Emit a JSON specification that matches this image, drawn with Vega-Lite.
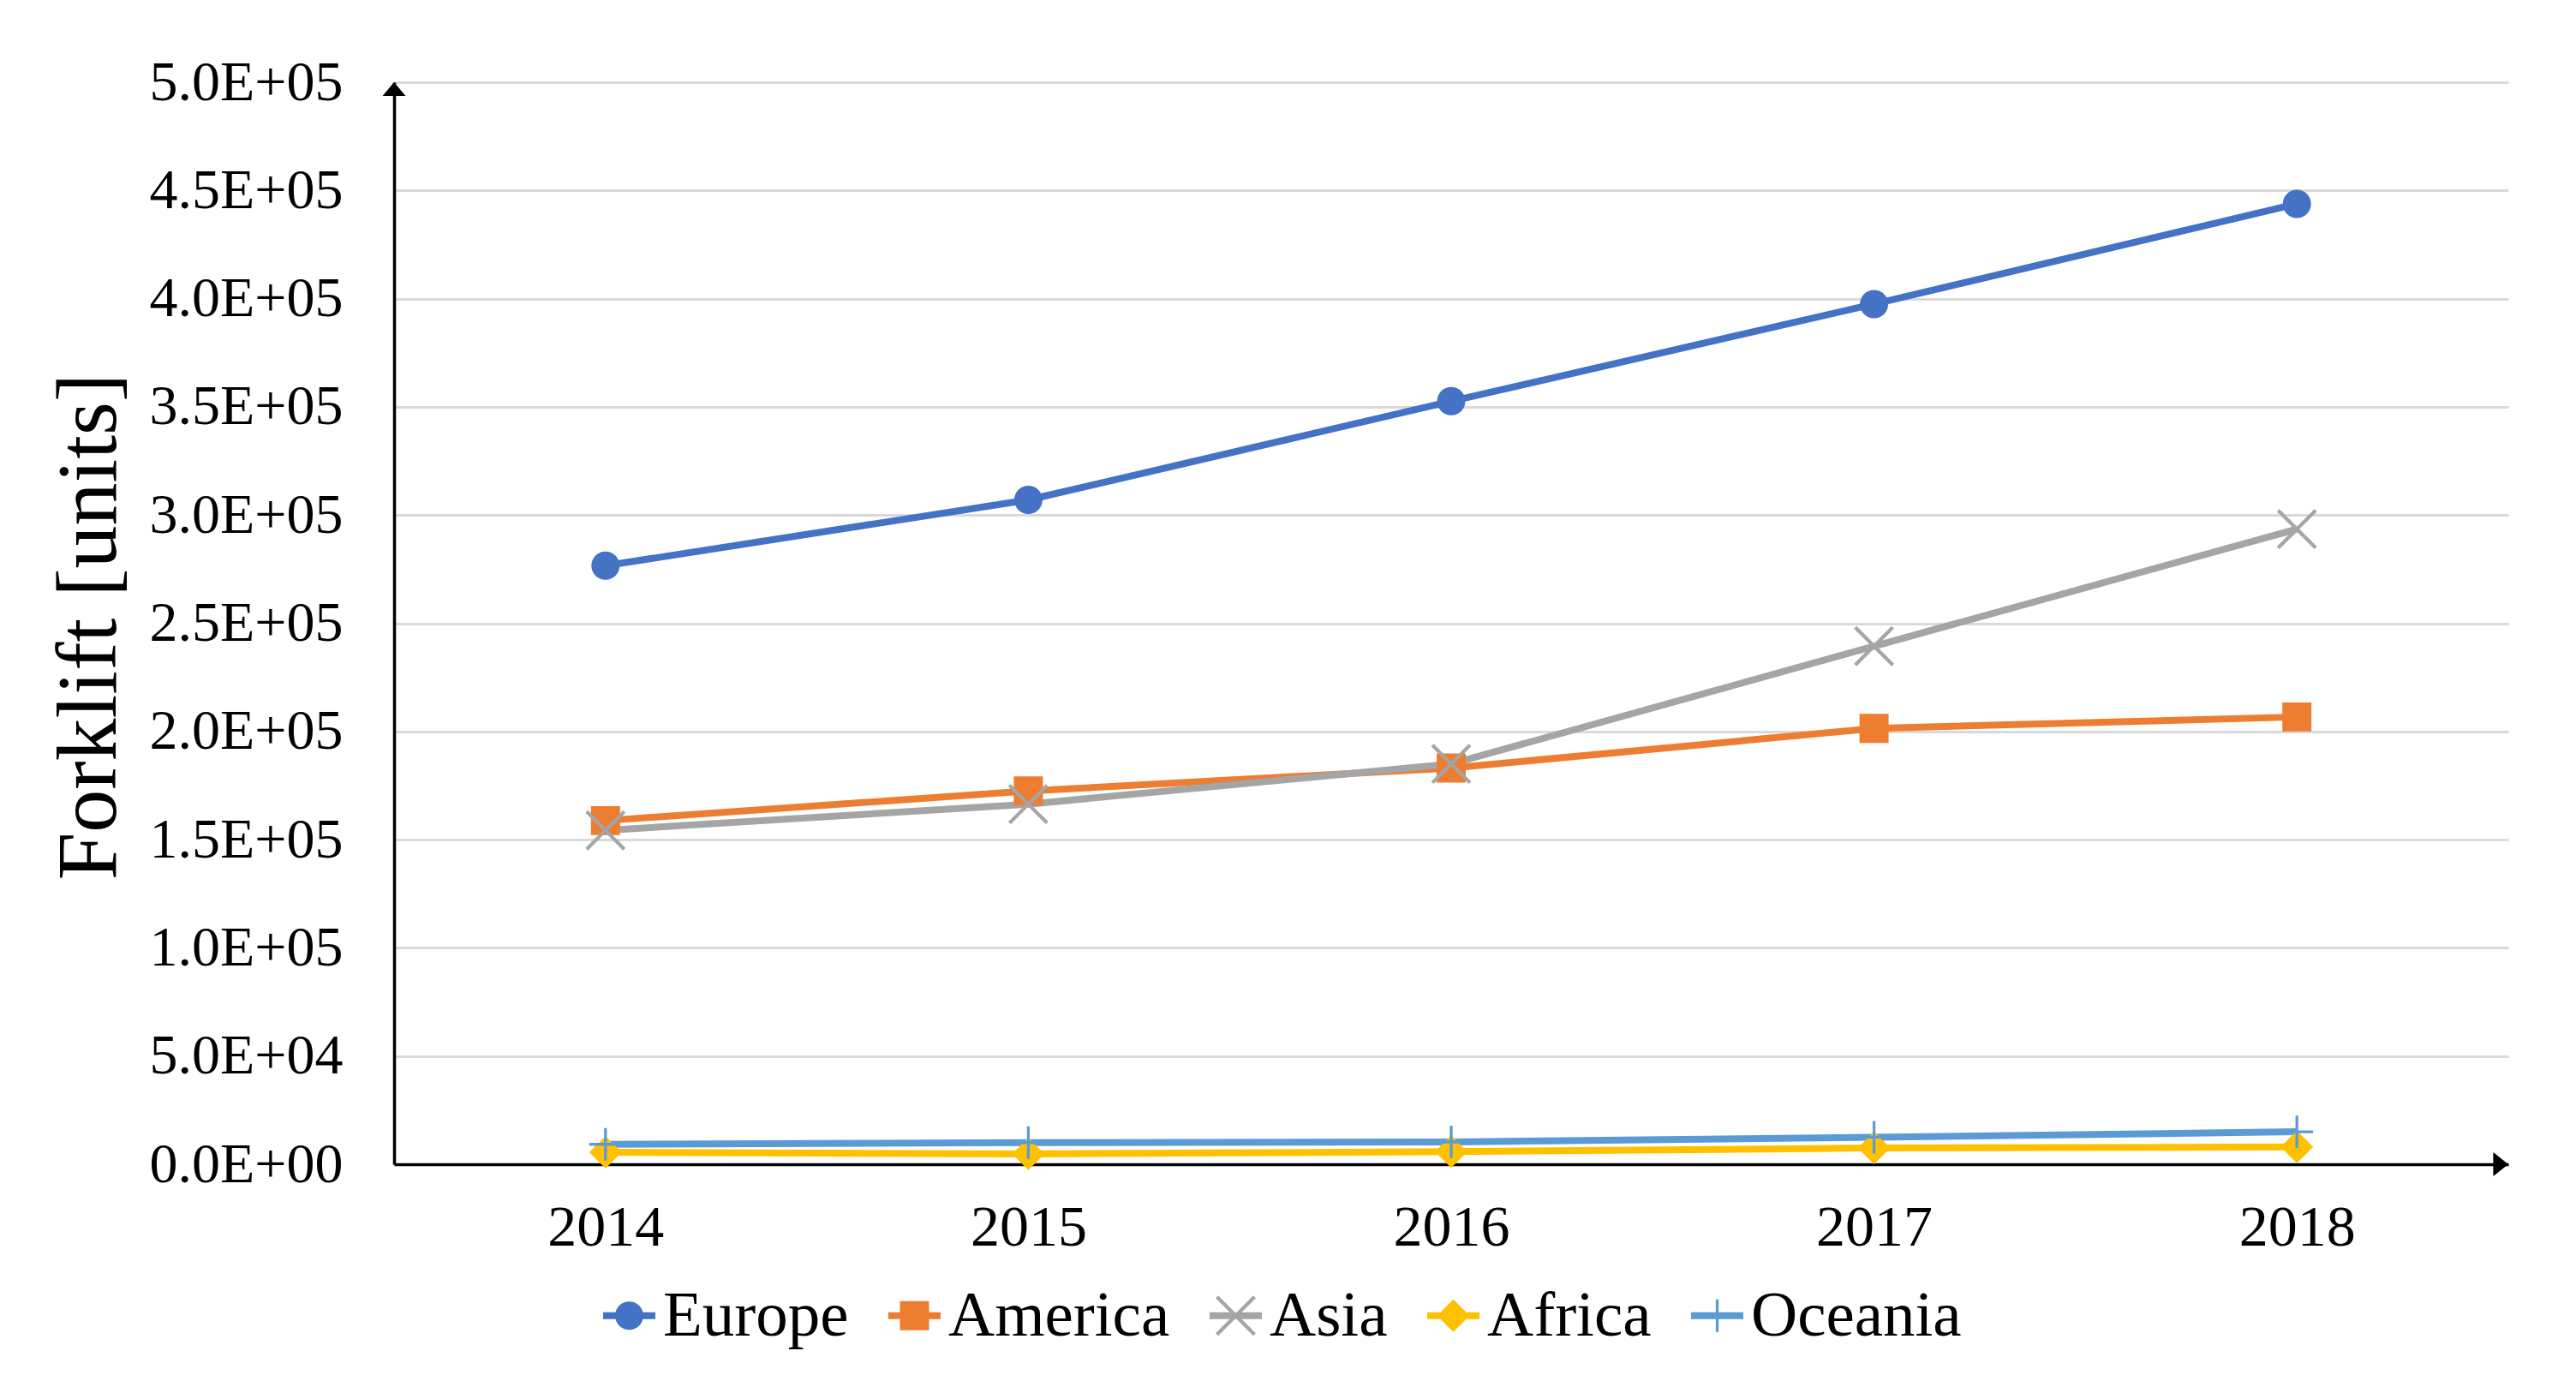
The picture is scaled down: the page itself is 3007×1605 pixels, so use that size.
{
  "$schema": "https://vega.github.io/schema/vega-lite/v6.json",
  "width": 2468,
  "height": 1263,
  "autosize": {"type": "none"},
  "padding": {"left": 460, "top": 96, "right": 79, "bottom": 246},
  "background": "white",
  "config": {"view": {"stroke": null}, "font": "Liberation Serif"},
  "datasets": {
    "forklift": [
      {"year": "2014", "series": "Europe", "value": 276600},
      {"year": "2015", "series": "Europe", "value": 307000},
      {"year": "2016", "series": "Europe", "value": 352600},
      {"year": "2017", "series": "Europe", "value": 397500},
      {"year": "2018", "series": "Europe", "value": 443800},
      {"year": "2014", "series": "America", "value": 158800},
      {"year": "2015", "series": "America", "value": 172500},
      {"year": "2016", "series": "America", "value": 183100},
      {"year": "2017", "series": "America", "value": 201400},
      {"year": "2018", "series": "America", "value": 206700},
      {"year": "2014", "series": "Asia", "value": 154300},
      {"year": "2015", "series": "Asia", "value": 166400},
      {"year": "2016", "series": "Asia", "value": 185000},
      {"year": "2017", "series": "Asia", "value": 239400},
      {"year": "2018", "series": "Asia", "value": 293500},
      {"year": "2014", "series": "Africa", "value": 5500},
      {"year": "2015", "series": "Africa", "value": 4800},
      {"year": "2016", "series": "Africa", "value": 5800},
      {"year": "2017", "series": "Africa", "value": 7500},
      {"year": "2018", "series": "Africa", "value": 8000},
      {"year": "2014", "series": "Oceania", "value": 9200},
      {"year": "2015", "series": "Oceania", "value": 10000},
      {"year": "2016", "series": "Oceania", "value": 10300},
      {"year": "2017", "series": "Oceania", "value": 12500},
      {"year": "2018", "series": "Oceania", "value": 15000}
    ],
    "arrowTop": [{"v": 500000}],
    "arrowRight": [{"v": 0}]
  },
  "layer": [
    {
      "data": {"name": "forklift"},
      "mark": {"type": "line", "strokeWidth": 8, "strokeJoin": "round", "strokeCap": "butt"},
      "encoding": {
        "x": {
          "field": "year", "type": "ordinal",
          "scale": {"type": "point", "padding": 0.5},
          "axis": {
            "title": null, "labelAngle": 0, "ticks": false, "tickSize": 0, "grid": false,
            "labelFont": "Liberation Serif", "labelFontSize": 68, "labelColor": "black",
            "labelPadding": 40, "domainColor": "black", "domainWidth": 3.5
          }
        },
        "y": {
          "field": "value", "type": "quantitative",
          "scale": {"domain": [0, 500000], "nice": false, "zero": true},
          "axis": {
            "title": "Forklift [units]",
            "titleFont": "Liberation Serif", "titleFontSize": 100, "titleFontWeight": "normal",
            "titleColor": "black", "titleX": -326, "titleY": 635, "titleAngle": -90,
            "titleAlign": "center", "titleBaseline": "alphabetic",
            "values": [0, 50000, 100000, 150000, 200000, 250000, 300000, 350000, 400000, 450000, 500000],
            "labelExpr": "datum.value == 0 ? '0.0E+00' : format(datum.value / pow(10, floor(log(datum.value) / LN10 + 1e-9)), '.1f') + 'E+' + (floor(log(datum.value) / LN10 + 1e-9) < 10 ? '0' : '') + floor(log(datum.value) / LN10 + 1e-9)",
            "labelFont": "Liberation Serif", "labelFontSize": 66, "labelColor": "black",
            "labelLimit": 1000,
            "labelPadding": 60, "ticks": false, "tickSize": 0,
            "grid": true, "gridColor": "#D9D9D9", "gridWidth": 3,
            "domainColor": "black", "domainWidth": 3.5
          }
        },
        "color": {
          "field": "series", "type": "nominal",
          "scale": {
            "domain": ["Europe", "America", "Asia", "Africa", "Oceania"],
            "range": ["#4472C4", "#ED7D31", "#A5A5A5", "#FFC000", "#5B9BD5"]
          },
          "legend": {
            "title": null,
            "orient": "none",
            "direction": "horizontal",
            "legendX": 237,
            "legendY": 1402,
            "labelFont": "Liberation Serif", "labelFontSize": 75, "labelColor": "black",
            "labelLimit": 1000,
            "symbolSize": 1089,
            "symbolStrokeWidth": 0,
            "symbolOpacity": 1,
            "labelOffset": 2,
            "columnPadding": 39,
            "encode": {
              "symbols": {
                "update": {
                  "shape": {"signal": "datum.value === 'Europe' ? 'M-1.85,-0.24H1.85V0.24H-1.85ZM1,0A1,1,0,1,1,-1,0A1,1,0,1,1,1,0Z' : datum.value === 'America' ? 'M-1.85,-0.24H1.85V0.24H-1.85ZM-1.03,-1.03H1.03V1.03H-1.03Z' : datum.value === 'Asia' ? 'M-1.85,-0.24H1.85V0.24H-1.85ZM-1.24,-1.42L1.42,1.24L1.24,1.42L-1.42,-1.24ZM-1.24,1.42L-1.42,1.24L1.24,-1.42L1.42,-1.24Z' : datum.value === 'Africa' ? 'M-1.85,-0.24H1.85V0.24H-1.85ZM0,-1.15L1.15,0L0,1.15L-1.15,0Z' : 'M-1.85,-0.24H1.85V0.24H-1.85ZM-0.1,-1.15H0.1V-0.1H1.15V0.1H0.1V1.15H-0.1V0.1H-1.15V-0.1H-0.1Z'"},
                  "fill": {"signal": "scale('color', datum.value)"},
                  "strokeWidth": {"value": 0},
                  "opacity": {"value": 1},
                  "size": {"value": 1089}
                }
              }
            }
          }
        }
      }
    },
    {
      "data": {"name": "forklift"},
      "transform": [{"filter": "datum.series === 'Europe'"}],
      "mark": {"type": "point", "filled": true, "size": 1089, "opacity": 1, "strokeWidth": 0, "shape": "M1,0A1,1,0,1,1,-1,0A1,1,0,1,1,1,0Z"},
      "encoding": {
        "x": {"field": "year", "type": "ordinal"},
        "y": {"field": "value", "type": "quantitative"},
        "color": {"field": "series", "type": "nominal"}
      }
    },
    {
      "data": {"name": "forklift"},
      "transform": [{"filter": "datum.series === 'America'"}],
      "mark": {"type": "point", "filled": true, "size": 1089, "opacity": 1, "strokeWidth": 0, "shape": "M-1.03,-1.03H1.03V1.03H-1.03Z"},
      "encoding": {
        "x": {"field": "year", "type": "ordinal"},
        "y": {"field": "value", "type": "quantitative"},
        "color": {"field": "series", "type": "nominal"}
      }
    },
    {
      "data": {"name": "forklift"},
      "transform": [{"filter": "datum.series === 'Asia'"}],
      "mark": {"type": "point", "filled": true, "size": 1089, "opacity": 1, "strokeWidth": 0, "shape": "M-1.24,-1.42L1.42,1.24L1.24,1.42L-1.42,-1.24ZM-1.24,1.42L-1.42,1.24L1.24,-1.42L1.42,-1.24Z"},
      "encoding": {
        "x": {"field": "year", "type": "ordinal"},
        "y": {"field": "value", "type": "quantitative"},
        "color": {"field": "series", "type": "nominal"}
      }
    },
    {
      "data": {"name": "forklift"},
      "transform": [{"filter": "datum.series === 'Africa'"}],
      "mark": {"type": "point", "filled": true, "size": 1089, "opacity": 1, "strokeWidth": 0, "shape": "M0,-1.15L1.15,0L0,1.15L-1.15,0Z"},
      "encoding": {
        "x": {"field": "year", "type": "ordinal"},
        "y": {"field": "value", "type": "quantitative"},
        "color": {"field": "series", "type": "nominal"}
      }
    },
    {
      "data": {"name": "forklift"},
      "transform": [{"filter": "datum.series === 'Oceania'"}],
      "mark": {"type": "point", "filled": true, "size": 1089, "opacity": 1, "strokeWidth": 0, "shape": "M-0.1,-1.15H0.1V-0.1H1.15V0.1H0.1V1.15H-0.1V0.1H-1.15V-0.1H-0.1Z"},
      "encoding": {
        "x": {"field": "year", "type": "ordinal"},
        "y": {"field": "value", "type": "quantitative"},
        "color": {"field": "series", "type": "nominal"}
      }
    },
    {
      "data": {"name": "arrowTop"},
      "mark": {"type": "point", "shape": "M0,0L0.84,1L-0.84,1Z", "filled": true, "color": "black", "size": 1024, "opacity": 1, "strokeWidth": 0},
      "encoding": {
        "x": {"value": 0},
        "y": {"field": "v", "type": "quantitative"}
      }
    },
    {
      "data": {"name": "arrowRight"},
      "mark": {"type": "point", "shape": "M0,0L-1.1,-0.875L-1.1,0.875Z", "filled": true, "color": "black", "size": 1024, "opacity": 1, "strokeWidth": 0},
      "encoding": {
        "x": {"value": "width"},
        "y": {"field": "v", "type": "quantitative"}
      }
    }
  ]
}
